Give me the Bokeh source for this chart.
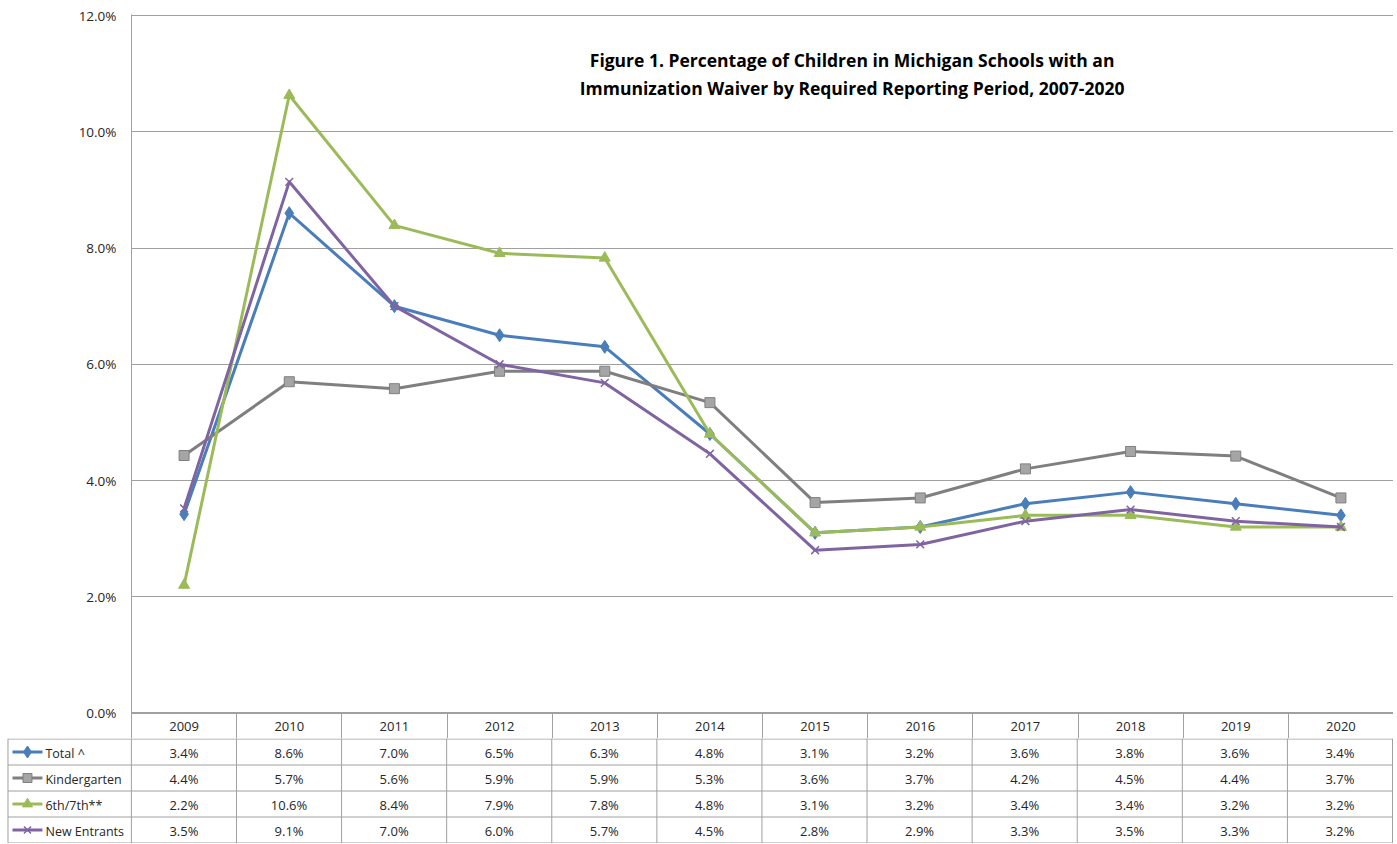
from bokeh.plotting import figure
from bokeh.models import Range1d, FixedTicker, PrintfTickFormatter
from bokeh.embed import file_html
from bokeh.resources import INLINE
from bokeh.core.properties import value

# ---------------- data ----------------
years = ["2009", "2010", "2011", "2012", "2013", "2014",
         "2015", "2016", "2017", "2018", "2019", "2020"]
total = [3.42, 8.60, 7.00, 6.50, 6.30, 4.80, 3.10, 3.20, 3.60, 3.80, 3.60, 3.40]
kindergarten = [4.43, 5.70, 5.58, 5.88, 5.88, 5.34, 3.62, 3.70, 4.20, 4.50, 4.42, 3.70]
sixth_seventh = [2.20, 10.63, 8.39, 7.91, 7.83, 4.80, 3.10, 3.20, 3.40, 3.40, 3.20, 3.20]
new_entrants = [3.52, 9.14, 7.00, 6.00, 5.68, 4.46, 2.80, 2.90, 3.30, 3.50, 3.30, 3.20]
series_names = ["Total ^", "Kindergarten", "6th/7th**", "New Entrants"]
y_ticks = [0, 2, 4, 6, 8, 10, 12]
title_lines = ["Figure 1. Percentage of Children in Michigan Schools with an",
               "Immunization Waiver by Required Reporting Period, 2007-2020"]

series = [total, kindergarten, sixth_seventh, new_entrants]

# ---------------- styles ----------------
FONT = "Open Sans"
TXT = "#262626"
styles = [
    dict(color="#4A7EBB", marker="diamond", size=13, fill="#4A7EBB", mline="#4A7EBB", mlw=1),
    dict(color="#7F7F7F", marker="square", size=10, fill="#A5A5A5", mline="#7F7F7F", mlw=1),
    dict(color="#9BBB59", marker="triangle", size=11, fill="#9BBB59", mline="#9BBB59", mlw=1),
    dict(color="#8064A2", marker="x", size=11, fill="#8064A2", mline="#8064A2", mlw=1.5),
]
GRID = "#a0a0a0"
W = 1393
LEFT = 131
TOP_BORDER = 14
FRAME_H = 699
HEADER_H = 25
ROW_H = 26
N_ROWS = 4
TAB_H = ROW_H * N_ROWS + 1

xs = list(range(len(years)))
cell_edges = [-0.5 + k for k in range(len(years) + 1)]

# ---------------- chart (with header row as its x axis) ----------------
top = figure(width=W, height=TOP_BORDER + FRAME_H + HEADER_H,
             x_range=Range1d(-0.5, 11.5), y_range=Range1d(-0.01, 12.02),
             output_backend="svg", toolbar_location=None,
             min_border_left=LEFT, min_border_right=0, min_border_top=TOP_BORDER,
             min_border_bottom=HEADER_H)
top.outline_line_color = None
top.background_fill_color = "white"
top.xgrid.visible = False

top.yaxis.ticker = FixedTicker(ticks=y_ticks)
top.yaxis.formatter = PrintfTickFormatter(format="%.1f%%")
top.yaxis.major_tick_line_color = None
top.yaxis.minor_tick_line_color = None
top.yaxis.axis_line_color = GRID
top.yaxis.major_label_standoff = 9
top.yaxis.major_label_text_font = FONT
top.yaxis.major_label_text_font_size = "13.5px"
top.yaxis.major_label_text_color = TXT
top.ygrid.grid_line_color = GRID
top.ygrid.grid_line_width = 1

top.xaxis.ticker = FixedTicker(ticks=xs, minor_ticks=cell_edges)
top.xaxis.major_label_overrides = {i: y for i, y in zip(xs, years)}
top.xaxis.major_tick_line_color = None
top.xaxis.minor_tick_line_color = GRID
top.xaxis.minor_tick_in = 0
top.xaxis.minor_tick_out = HEADER_H
top.xaxis.axis_line_color = GRID
top.xaxis.major_label_standoff = -17
top.xaxis.major_label_text_font = FONT
top.xaxis.major_label_text_font_size = "13px"
top.xaxis.major_label_text_color = TXT

for vals, st in zip(series, styles):
    top.line(xs, vals, line_width=3, line_color=st["color"], line_join="round")
    top.scatter(xs, vals, marker=st["marker"], size=st["size"],
                fill_color=st["fill"], line_color=st["mline"], line_width=st["mlw"])

top.text(x=[6.352, 6.352], y=[11.245, 10.747], text=title_lines,
         text_font=value(FONT), text_font_style="bold", text_font_size="17.5px",
         text_align="center", text_baseline="middle", text_color="#000000")

# ---------------- data table rows ----------------
px_per_unit = (W - LEFT) / 12.0
x0 = -0.5 - LEFT / px_per_unit
tab = figure(width=W, height=TAB_H, x_range=Range1d(x0, 11.5 + 1.0 / px_per_unit),
             y_range=Range1d(TAB_H, 0), output_backend="svg",
             toolbar_location=None, x_axis_location=None, y_axis_location=None,
             min_border_left=0, min_border_right=0, min_border_top=0,
             min_border_bottom=0)
tab.outline_line_color = None
tab.xgrid.visible = False
tab.ygrid.visible = False

eps = 7.5 / px_per_unit
row_bounds = [0.5 + ROW_H * k for k in range(N_ROWS + 1)]
tab.segment(x0=[x0 + eps] * len(row_bounds), y0=row_bounds,
            x1=[11.5] * len(row_bounds), y1=row_bounds, line_color=GRID, line_width=1)
tab.segment(x0=cell_edges, y0=[0] * len(cell_edges), x1=cell_edges,
            y1=[TAB_H] * len(cell_edges), line_color=GRID, line_width=1)
tab.segment(x0=[x0 + eps], y0=[0], x1=[x0 + eps], y1=[TAB_H], line_color=GRID, line_width=1)

key_x0 = x0 + 12 / px_per_unit
key_x1 = x0 + 42 / px_per_unit
label_x = x0 + 45 / px_per_unit
for r, (vals, st, name) in enumerate(zip(series, styles, series_names)):
    yc = 1.5 + ROW_H * (r + 0.5)
    tab.text(x=xs, y=[yc] * len(xs), text=[f"{v:.1f}%" for v in vals],
             text_font=value(FONT), text_font_size="13px", text_align="center",
             text_baseline="middle", text_color=TXT)
    tab.line([key_x0, key_x1], [yc - 1, yc - 1], line_width=3, line_color=st["color"])
    tab.scatter([(key_x0 + key_x1) / 2], [yc - 1], marker=st["marker"], size=st["size"] - 1,
                fill_color=st["fill"], line_color=st["mline"], line_width=st["mlw"])
    tab.text(x=[label_x], y=[yc], text=[name], text_font=value(FONT),
             text_font_size="12.5px", text_align="left", text_baseline="middle",
             text_color=TXT)

open("out.html", "w").write(file_html([top, tab], INLINE))
